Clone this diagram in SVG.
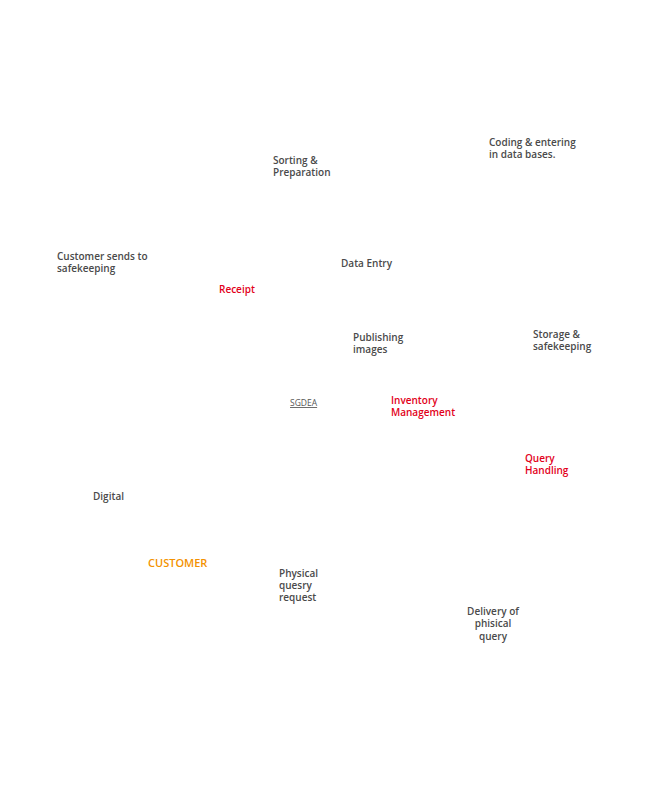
<svg xmlns="http://www.w3.org/2000/svg" width="647" height="802" viewBox="0 0 647 802">
<style>
text{font-family:"Open Sans","Noto Sans","DejaVu Sans",sans-serif;font-size:10px;font-weight:600;fill:#4a4a4a}
.red{fill:#e2001a}
.org{fill:#f39200;font-size:11px}
.sg{font-size:8.5px;font-weight:400;fill:#555;text-decoration:underline}
.c{text-anchor:middle}
</style>
<rect width="647" height="802" fill="#fff"/>
<g id="sorting"><text x="273" y="164">Sorting &amp;<tspan x="273" dy="12">Preparation</tspan></text></g>
<g id="coding"><text x="489" y="146">Coding &amp; entering<tspan x="489" dy="12">in data bases.</tspan></text></g>
<g id="customer-sends"><text x="57" y="260">Customer sends to<tspan x="57" dy="12">safekeeping</tspan></text></g>
<g id="receipt"><text class="red" x="219" y="293">Receipt</text></g>
<g id="data-entry"><text x="341" y="267">Data Entry</text></g>
<g id="publishing"><text x="353" y="341">Publishing<tspan x="353" dy="12">images</tspan></text></g>
<g id="storage"><text x="533" y="338">Storage &amp;<tspan x="533" dy="12">safekeeping</tspan></text></g>
<g id="sgdea"><text class="sg" x="290" y="406">SGDEA</text></g>
<g id="inventory"><text class="red" x="391" y="404">Inventory<tspan x="391" dy="12">Management</tspan></text></g>
<g id="query"><text class="red" x="525" y="462">Query<tspan x="525" dy="12">Handling</tspan></text></g>
<g id="digital"><text x="93" y="500">Digital</text></g>
<g id="customer"><text class="org" x="148" y="567">CUSTOMER</text></g>
<g id="physical"><text x="279" y="577">Physical<tspan x="279" dy="12">quesry</tspan><tspan x="279" dy="12">request</tspan></text></g>
<g id="delivery"><text class="c" x="493" y="615">Delivery of<tspan x="493" dy="12">phisical</tspan><tspan x="493" dy="13">query</tspan></text></g>
<g id="connectors"></g>
</svg>
